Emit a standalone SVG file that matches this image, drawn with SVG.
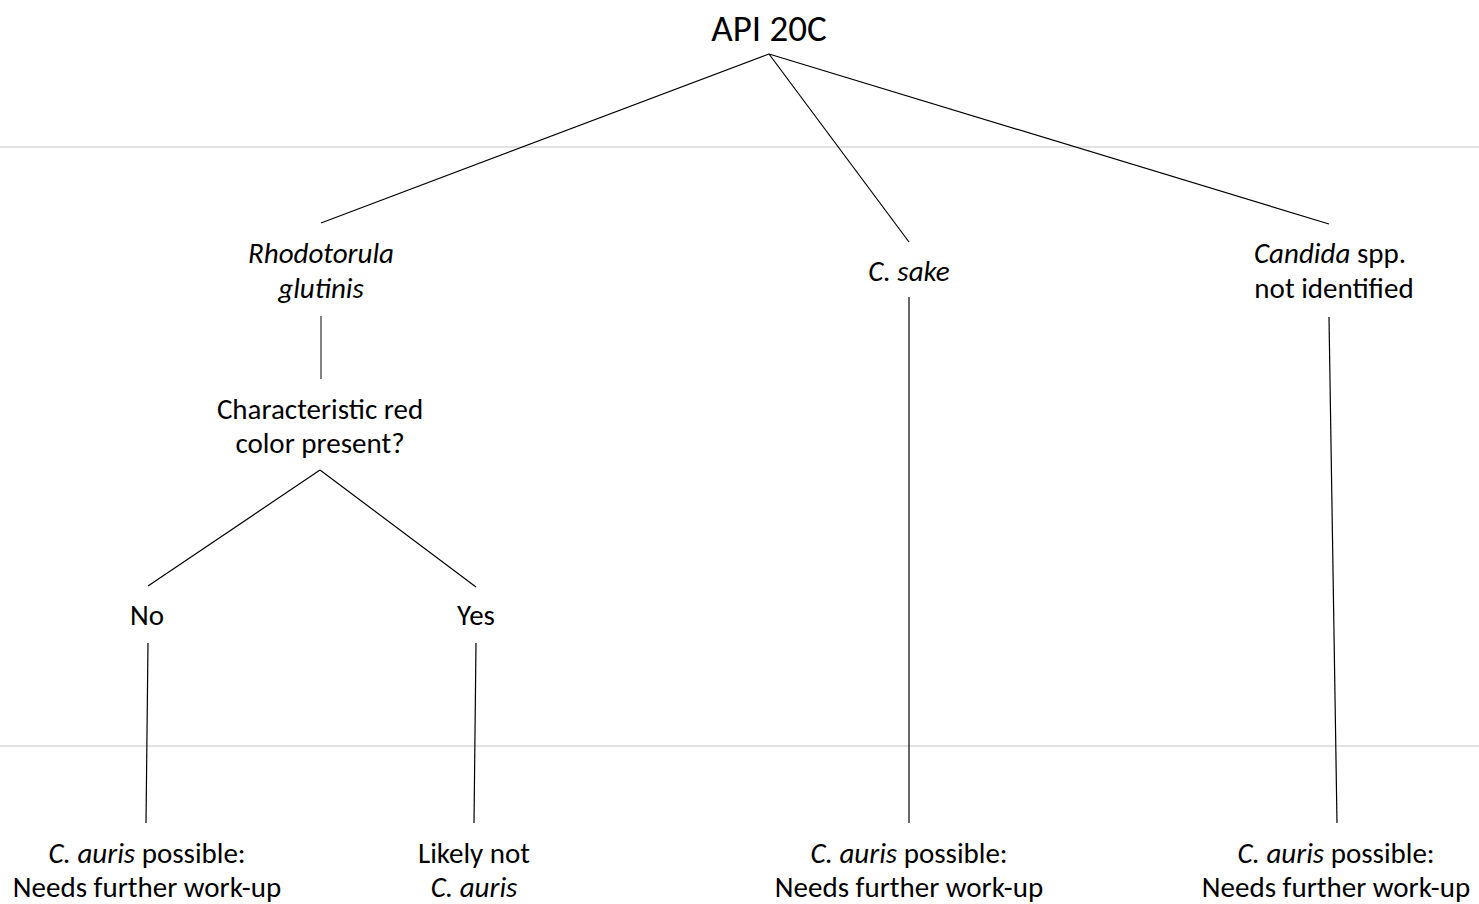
<svg xmlns="http://www.w3.org/2000/svg" width="1479" height="904" viewBox="0 0 1479 904">
<style>
.t{font-family:Carlito,Calibri,Lato,"Open Sans",sans-serif;font-size:29px;fill:#000;text-anchor:middle}
.root{font-size:37px}
.i{font-style:italic}
.c{stroke:#000;stroke-width:1.2;fill:none}
.g{stroke:#d9d9d9;stroke-width:1.5}
</style>
<rect width="1479" height="904" fill="#fff"/>
<g id="bands">
<line class="g" x1="0" y1="147" x2="1479" y2="147"/>
<line class="g" x1="0" y1="746" x2="1479" y2="746"/>
</g>
<g id="connectors">
<line class="c" x1="769" y1="54" x2="321" y2="223"/>
<line class="c" x1="769" y1="54" x2="909" y2="242"/>
<line class="c" x1="769" y1="54" x2="1329" y2="224"/>
<line class="c" x1="321" y1="316" x2="321" y2="379" style="stroke:#595959;stroke-width:1.5"/>
<line class="c" x1="320" y1="470" x2="148" y2="586"/>
<line class="c" x1="320" y1="470" x2="476" y2="587"/>
<line class="c" x1="148" y1="643" x2="146" y2="823"/>
<line class="c" x1="476" y1="643" x2="474" y2="823"/>
<line class="c" x1="909" y1="297" x2="909" y2="823"/>
<line class="c" x1="1329" y1="317" x2="1337" y2="823"/>
</g>
<g id="root"><text class="t root" x="769" y="41">API 20C</text></g>
<g id="rhodotorula"><text class="t i" x="321" y="263">Rhodotorula</text><text class="t i" x="321" y="298">glutinis</text></g>
<g id="csake"><text class="t i" x="909" y="281">C. sake</text></g>
<g id="candida"><text class="t" x="1330" y="263"><tspan class="i">Candida</tspan> spp.</text><text class="t" x="1334" y="298">not identified</text></g>
<g id="question"><text class="t" x="320" y="419">Characteristic red</text><text class="t" x="320" y="453">color present?</text></g>
<g id="no"><text class="t" x="147" y="625">No</text></g>
<g id="yes"><text class="t" x="476" y="625">Yes</text></g>
<g id="out1"><text class="t" x="147" y="863"><tspan class="i">C. auris</tspan> possible:</text><text class="t" x="147" y="897">Needs further work-up</text></g>
<g id="out2"><text class="t" x="474" y="863">Likely not</text><text class="t i" x="474" y="897">C. auris</text></g>
<g id="out3"><text class="t" x="909" y="863"><tspan class="i">C. auris</tspan> possible:</text><text class="t" x="909" y="897">Needs further work-up</text></g>
<g id="out4"><text class="t" x="1336" y="863"><tspan class="i">C. auris</tspan> possible:</text><text class="t" x="1336" y="897">Needs further work-up</text></g>
</svg>
